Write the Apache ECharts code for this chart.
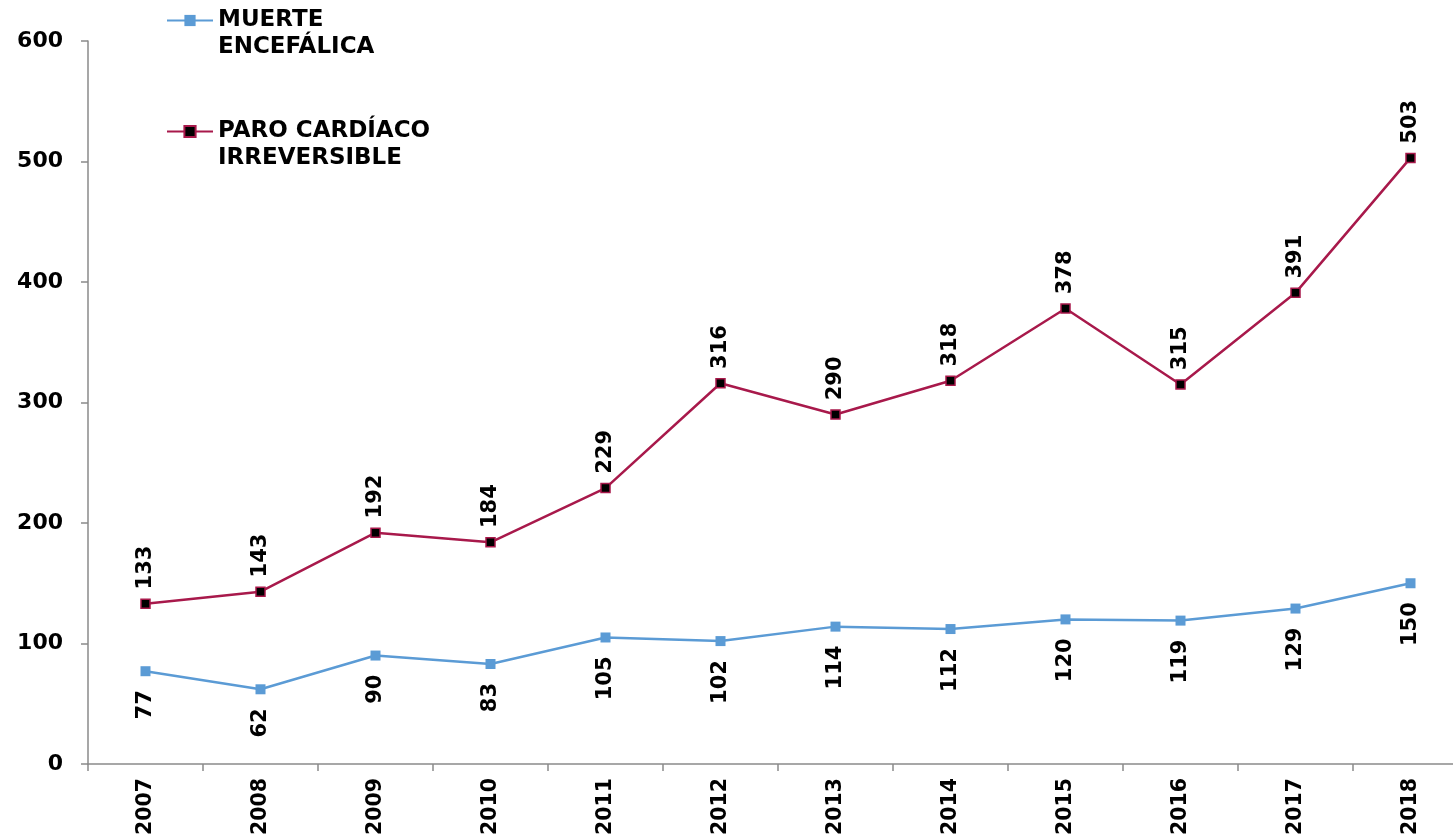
<!DOCTYPE html>
<html>
<head>
<meta charset="utf-8">
<script src="https://cdn.jsdelivr.net/npm/echarts@6/dist/echarts.min.js"></script>
<style>
  html, body { margin: 0; padding: 0; background: #fff; overflow: hidden; }
  /* the plot runs a little past the right edge of the window */
  #chart { width: 1468px; height: 839px; }
</style>
</head>
<body>
<div id="chart"></div>
<script>
// Years on the category axis
const years = ['2007', '2008', '2009', '2010', '2011', '2012', '2013', '2014', '2015', '2016', '2017', '2018'];
// Donors by death type
const muerteEncefalica = [77, 62, 90, 83, 105, 102, 114, 112, 120, 119, 129, 150];
const paroCardiaco = [133, 143, 192, 184, 229, 316, 290, 318, 378, 315, 391, 503];
// Value axis ticks
const yMin = 0, yMax = 600, yStep = 100;

const seriesNames = ['MUERTE ENCEFÁLICA', 'PARO CARDÍACO IRREVERSIBLE'];
// Legend labels wrap onto two lines; the leading blank line keeps the
// symbol level with the first line of text (legend text is centred on the symbol).
const legendText = {
  'MUERTE ENCEFÁLICA': '\nMUERTE\nENCEFÁLICA',
  'PARO CARDÍACO IRREVERSIBLE': '\nPARO CARDÍACO\nIRREVERSIBLE'
};

const FONT = 'DejaVu Sans';
const axisColor = '#8a8a8a';
const blue = '#5B9BD5';
const red = '#A8194B';

const chart = echarts.init(document.getElementById('chart'), null, { renderer: 'canvas' });

const legendBase = {
  orient: 'vertical',
  left: 166,
  padding: 0,
  itemWidth: 46,
  itemHeight: 14,
  selectedMode: false,
  formatter: n => legendText[n],
  textStyle: {
    fontFamily: FONT,
    fontWeight: 'bold',
    fontSize: 23,
    color: '#000',
    lineHeight: 27
  }
};

chart.setOption({
  animation: false,
  backgroundColor: '#fff',
  grid: { left: 88, top: 41, bottom: 75, right: 0, containLabel: false },
  legend: [
    Object.assign({}, legendBase, { top: -20, data: [seriesNames[0]] }),
    Object.assign({}, legendBase, { top: 91, data: [seriesNames[1]] })
  ],
  xAxis: {
    type: 'category',
    data: years,
    boundaryGap: true,
    axisLine: { lineStyle: { color: axisColor, width: 1.5 } },
    axisTick: { show: true, length: 7, lineStyle: { color: axisColor, width: 1.5 } },
    axisLabel: {
      rotate: 90,
      margin: 14,
      fontFamily: FONT,
      fontWeight: 'bold',
      fontSize: 20.5,
      color: '#000'
    },
    splitLine: { show: false }
  },
  yAxis: {
    type: 'value',
    min: yMin,
    max: yMax,
    interval: yStep,
    axisLine: { show: true, lineStyle: { color: axisColor, width: 1.5 } },
    axisTick: { show: true, length: 7, lineStyle: { color: axisColor, width: 1.5 } },
    axisLabel: {
      margin: 25,
      fontFamily: FONT,
      fontWeight: 'bold',
      fontSize: 22,
      color: '#000'
    },
    splitLine: { show: false }
  },
  series: [
    {
      name: seriesNames[0],
      type: 'line',
      data: muerteEncefalica,
      symbol: 'rect',
      symbolSize: 10,
      lineStyle: { color: blue, width: 2.5 },
      itemStyle: { color: blue },
      label: {
        show: true,
        position: 'bottom',
        distance: 14,
        rotate: 90,
        align: 'right',
        verticalAlign: 'middle',
        fontFamily: FONT,
        fontWeight: 'bold',
        fontSize: 21,
        color: '#000'
      }
    },
    {
      name: seriesNames[1],
      type: 'line',
      data: paroCardiaco,
      symbol: 'rect',
      symbolSize: 9,
      lineStyle: { color: red, width: 2.5 },
      itemStyle: { color: '#000', borderColor: red, borderWidth: 1.5 },
      label: {
        show: true,
        position: 'top',
        distance: 9,
        rotate: 90,
        align: 'left',
        verticalAlign: 'middle',
        fontFamily: FONT,
        fontWeight: 'bold',
        fontSize: 21,
        color: '#000'
      }
    }
  ]
});
</script>
</body>
</html>
